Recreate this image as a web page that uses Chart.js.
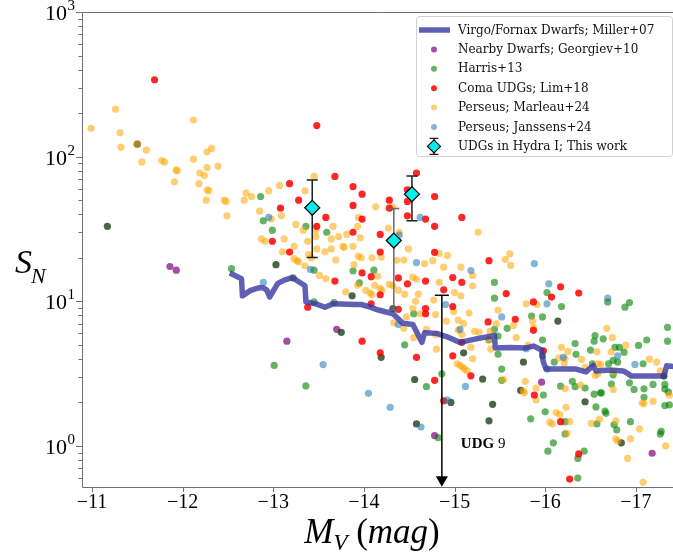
<!DOCTYPE html>
<html>
<head>
<meta charset="utf-8">
<script src="https://cdn.jsdelivr.net/npm/chart.js@4.4.1/dist/chart.umd.min.js"></script>
<style>
  html, body { margin: 0; padding: 0; background: #fff; }
</style>
</head>
<body>
<canvas id="myChart" width="673" height="554"></canvas>
<script>
// tick labels
const xTicks = [-11, -12, -13, -14, -15, -16, -17];
const yDecades = [0, 1, 2, 3];

// Virgo/Fornax dwarfs, Miller+07 (running curve)
const millerMV = [-12.52, -12.65, -12.66, -12.75, -12.84, -12.89, -12.93, -12.96, -13.05, -13.12,
  -13.21, -13.35, -13.36, -13.47, -13.57, -13.66, -13.90, -13.97, -14.07, -14.16,
  -14.32, -14.43, -14.54, -14.64, -14.67, -14.80, -14.91, -15.06, -15.24, -15.44,
  -15.45, -15.61, -15.79, -15.87, -15.96, -15.98, -16.01, -16.16, -16.34, -16.45,
  -16.53, -16.56, -16.71, -16.86, -16.91, -16.95, -17.31, -17.34, -17.48];
const millerSN = [15.7, 14.3, 10.9, 11.9, 12.4, 12.4, 11.9, 10.7, 13.3, 14.0,
  14.6, 12.8, 9.9, 9.6, 9.1, 9.6, 9.5, 9.5, 9.1, 8.7,
  8.2, 7.05, 6.9, 5.2, 6.07, 6.0, 5.7, 5.2, 5.5, 5.8,
  4.76, 4.8, 4.76, 4.9, 4.6, 3.8, 3.4, 3.4, 3.4, 3.25,
  3.6, 3.3, 3.35, 3.3, 3.17, 3.04, 3.04, 3.58, 3.5];

// [M_V, S_N]
const georgiev = [[-11.86, 17.4], [-11.93, 16.4], [-13.70, 6.4], [-13.15, 5.3], [-14.78, 1.18],
  [-15.96, 2.76], [-17.18, 0.89]];

const harris = [[-12.86, 53], [-12.89, 36], [-12.99, 31], [-13.36, 33], [-13.59, 30], [-13.45, 16.4],
  [-13.88, 16.2], [-12.54, 16.8], [-13.22, 14.5], [-13.01, 3.6], [-13.36, 2.6], [-14.11, 16.4],
  [-13.95, 13.4], [-15.44, 13.5], [-15.44, 10.5], [-14.45, 5.0], [-14.55, 8.2], [-15.85, 7.9],
  [-15.97, 7.8], [-15.58, 6.5], [-15.44, 6.4], [-15.38, 5.4], [-15.97, 5.4], [-16.02, 11.5],
  [-16.18, 9.2], [-16.69, 9.9], [-16.88, 9.1], [-16.93, 9.8], [-16.55, 5.8], [-16.54, 5.3],
  [-16.64, 5.5], [-16.33, 5.1], [-17.35, 6.6], [-17.35, 5.3], [-17.12, 5.4], [-16.77, 4.8],
  [-16.82, 4.8], [-16.87, 4.45], [-17.03, 4.95], [-16.34, 4.3], [-16.50, 4.6], [-15.97, 4.2],
  [-16.10, 3.8], [-16.52, 3.7], [-16.70, 3.7], [-16.75, 3.9], [-16.80, 3.8], [-16.75, 3.1],
  [-17.08, 3.7], [-16.93, 2.73], [-16.98, 2.46], [-17.09, 2.48], [-17.19, 2.66], [-17.32, 2.66],
  [-17.32, 2.47], [-17.36, 2.36], [-17.09, 2.17], [-17.32, 1.9], [-17.37, 1.92], [-16.73, 2.68],
  [-16.61, 2.33], [-16.62, 2.33], [-16.54, 2.28], [-16.44, 2.51], [-16.33, 2.57], [-16.17, 2.59],
  [-16.30, 2.8], [-15.98, 2.25], [-16.56, 1.86], [-16.66, 1.74], [-16.67, 1.68], [-16.57, 1.42],
  [-16.76, 1.40], [-16.79, 1.29], [-16.94, 1.47], [-17.28, 1.26], [-17.27, 1.21], [-16.22, 1.47],
  [-15.84, 1.54], [-16.00, 1.72], [-16.22, 1.21], [-16.09, 1.05], [-16.03, 0.92], [-16.43, 0.92],
  [-16.36, 0.82], [-16.36, 0.60], [-14.69, 2.57], [-14.86, 3.15], [-14.82, 1.14], [-15.52, 3.4],
  [-15.52, 2.84], [-15.48, 4.3], [-13.45, 9.9], [-13.67, 9.8], [-15.48, 5.75]];

// darker Harris points
const harrisDark = [[-11.17, 33], [-11.50, 122], [-13.03, 17.9], [-13.75, 6.1], [-13.87, 10.9],
  [-14.32, 8.9], [-14.19, 4.1], [-14.56, 2.88], [-14.58, 1.42], [-14.96, 2.0], [-15.10, 4.4],
  [-15.31, 2.9], [-15.42, 1.94], [-15.38, 1.49], [-16.14, 7.3], [-15.76, 3.8], [-15.73, 2.42],
  [-16.44, 2.02], [-16.84, 1.05], [-17.31, 3.04]];

const lim = [[-11.69, 340], [-13.48, 164], [-13.68, 73], [-13.88, 62], [-13.18, 65], [-13.28, 50],
  [-13.88, 46], [-13.08, 44], [-13.58, 38], [-13.48, 33], [-13.88, 30], [-12.99, 26], [-13.18, 21.9],
  [-13.68, 13.8], [-13.38, 9.1], [-13.98, 5.3], [-14.18, 4.4], [-14.58, 77], [-13.98, 55],
  [-14.28, 50], [-14.28, 44], [-14.48, 59], [-14.48, 49], [-14.78, 53], [-14.48, 39], [-14.68, 37],
  [-14.78, 33], [-15.08, 38], [-13.98, 37], [-14.18, 29], [-14.18, 21.9], [-14.78, 21.8],
  [-15.38, 19.1], [-13.98, 15.7], [-14.08, 14.8], [-14.38, 14.5], [-14.68, 13.8], [-14.98, 14.6],
  [-15.08, 13.5], [-14.48, 13.2], [-14.18, 11.1], [-14.88, 12.0], [-15.57, 11.3], [-14.98, 9.2],
  [-14.68, 8.9], [-14.68, 8.2], [-14.08, 9.6], [-14.38, 8.8], [-15.37, 7.2], [-15.67, 7.5],
  [-15.87, 9.9], [-15.87, 6.3], [-16.17, 12.6], [-16.07, 10.7], [-16.37, 11.4], [-14.58, 4.1],
  [-14.78, 2.84], [-14.88, 2.05], [-14.98, 4.2], [-15.18, 3.05], [-15.88, 2.25], [-16.17, 1.47],
  [-16.37, 0.88], [-16.27, 0.59], [-15.08, 5.2], [-15.98, 4.55]];

const marleau = [[-10.99, 157], [-11.26, 213], [-11.31, 146], [-11.32, 116], [-11.50, 122],
  [-11.60, 111], [-11.55, 92], [-12.12, 179], [-12.12, 96], [-12.27, 108], [-12.32, 114],
  [-11.77, 94], [-11.80, 92], [-11.93, 81], [-11.94, 80], [-12.27, 84], [-12.39, 86], [-12.19, 77],
  [-12.24, 74], [-11.91, 67], [-12.18, 65], [-12.27, 59], [-12.29, 58],
  [-13.45, 73], [-13.35, 58], [-13.07, 63], [-12.95, 58], [-12.70, 56], [-12.76, 53], [-12.46, 50],
  [-12.48, 49], [-12.26, 50], [-12.68, 50], [-12.49, 39], [-12.85, 42], [-13.09, 39], [-12.98, 37],
  [-13.25, 34], [-13.33, 31], [-13.47, 31], [-13.66, 33], [-13.72, 28], [-13.81, 29], [-13.64, 27],
  [-13.47, 28], [-13.38, 26], [-13.12, 27], [-12.87, 27], [-12.91, 26], [-13.23, 24], [-13.77, 24],
  [-13.78, 23.6], [-13.88, 24], [-13.64, 23], [-13.48, 23], [-13.57, 22], [-13.10, 22], [-13.39, 21],
  [-13.42, 20], [-13.23, 19.7], [-13.26, 19.1], [-13.28, 18.8], [-13.69, 19.3], [-13.35, 17.6],
  [-13.51, 15.1], [-13.58, 14.3], [-13.80, 11.6],
  [-14.13, 45], [-14.32, 45], [-13.94, 38], [-13.93, 33], [-13.96, 27.5], [-14.27, 32], [-14.39, 30],
  [-15.26, 30], [-14.49, 23], [-14.83, 21.4], [-14.92, 20.7], [-13.94, 20.5], [-13.97, 20],
  [-14.09, 20], [-14.19, 20.2], [-14.36, 19.2], [-14.44, 19.3], [-14.67, 18.2], [-14.76, 19.1],
  [-15.56, 19.5], [-15.62, 17.7], [-13.89, 17.9], [-14.88, 17.2], [-15.07, 17.2], [-15.20, 15.1],
  [-14.15, 14.9], [-14.54, 14.7], [-14.58, 14.2], [-14.83, 13.5], [-15.20, 12.8], [-13.93, 12.9],
  [-14.12, 12.9], [-14.28, 13.1], [-14.32, 12.8], [-14.02, 11.9], [-14.07, 11.4], [-14.09, 11.1],
  [-14.18, 12.3], [-14.20, 11.9], [-14.38, 11.9], [-14.45, 11.2], [-14.60, 11.2], [-15.00, 11.5],
  [-15.07, 10.9], [-14.57, 10.0], [-14.77, 10.2], [-14.54, 8.9], [-15.61, 21.3],
  [-14.33, 7.1], [-14.44, 6.5], [-14.62, 8.2], [-14.79, 8.1], [-14.91, 7.3], [-15.04, 7.4],
  [-15.10, 7.0], [-15.16, 8.3], [-15.48, 8.7], [-15.46, 7.0], [-15.65, 6.8], [-15.39, 6.2],
  [-15.68, 5.6], [-15.22, 6.2], [-15.27, 6.1], [-15.38, 5.4], [-15.04, 6.3], [-15.08, 5.9],
  [-15.79, 9.6], [-15.91, 9.5], [-15.86, 7.3], [-15.87, 6.6], [-16.68, 6.5], [-16.74, 5.6],
  [-16.18, 4.8],
  [-15.54, 2.87], [-15.40, 4.67], [-14.80, 4.67], [-14.79, 5.9], [-14.55, 5.6], [-14.69, 6.4],
  [-14.47, 7.8], [-14.99, 8.5], [-15.20, 4.0], [-15.03, 3.7], [-15.06, 3.6], [-15.09, 3.5],
  [-15.11, 3.4], [-15.14, 3.3], [-15.18, 4.8], [-15.78, 2.8], [-15.76, 2.4], [-15.90, 2.08],
  [-15.81, 4.97], [-16.15, 4.06], [-16.22, 4.0], [-16.21, 3.7], [-16.25, 4.5], [-16.40, 3.96],
  [-16.44, 3.5], [-16.57, 4.47], [-16.58, 3.7], [-16.61, 3.66], [-16.55, 3.07], [-16.58, 3.15],
  [-16.73, 4.47], [-16.89, 4.97], [-16.75, 3.27], [-17.15, 3.98], [-17.23, 3.8], [-17.27, 3.3],
  [-17.37, 2.24], [-17.07, 1.98], [-17.09, 1.96], [-17.19, 2.03], [-16.75, 2.46], [-16.39, 2.63],
  [-16.22, 2.49], [-16.60, 1.53], [-16.51, 1.43], [-16.78, 1.49], [-16.78, 1.12], [-16.80, 1.08],
  [-16.94, 1.12], [-17.04, 1.31], [-17.33, 1.0], [-16.91, 0.82], [-17.08, 0.56], [-16.23, 1.85],
  [-16.12, 1.70], [-16.16, 1.65], [-16.05, 1.46], [-16.08, 1.42], [-16.27, 1.47], [-16.24, 1.22],
  [-15.77, 2.33], [-15.90, 2.51]];

const janssens = [[-12.89, 13.5], [-12.95, 38], [-13.55, 3.65], [-14.05, 2.31], [-13.41, 16.6],
  [-14.62, 38], [-14.39, 28.7], [-14.58, 18.5], [-15.18, 16.3], [-14.90, 9.5], [-14.38, 6.9],
  [-15.52, 7.8], [-15.88, 18.2], [-16.04, 13.2], [-16.69, 10.5], [-14.29, 1.85], [-14.63, 1.35],
  [-14.92, 2.08], [-15.12, 2.58], [-15.06, 6.4], [-16.20, 4.1], [-16.80, 4.2], [-16.99, 3.66],
  [-16.02, 3.4], [-15.79, 4.7], [-16.02, 9.6]];

// UDGs in Hydra I (this work)
const hydraMV = [-13.43, -14.33, -14.53];
const hydraSN = [44.3, 26.3, 55.0];
const hydraLo = [20.1, 8.67, 36.0];
const hydraHi = [69, 43.8, 73.6];

// UDG 9 upper limit
const udg9MV = -14.86;
const udg9Lim = 11.0;
const udg9Tip = 0.583;

const col = {
  miller: 'rgba(55,55,161,0.8)',
  purple: 'rgba(128,0,128,0.7)',
  green: 'rgba(0,128,0,0.6)',
  dark: 'rgba(25,65,25,0.8)',
  red: 'rgba(255,0,0,0.85)',
  orange: 'rgba(255,165,0,0.55)',
  blue: 'rgba(31,119,180,0.55)'
};

const toXY = pts => pts.map(p => ({ x: p[0], y: p[1] }));
const dots = (label, pts, color) => ({
  label: label,
  data: toXY(pts),
  backgroundColor: color,
  borderWidth: 0,
  pointRadius: 3.6,
  pointHoverRadius: 3.6
});

const datasets = [
  {
    label: 'UDGs in Hydra I; This work',
    data: hydraMV.map((v, i) => ({ x: v, y: hydraSN[i] })),
    pointStyle: 'rectRot',
    pointRadius: 7.5,
    backgroundColor: '#00f0f0',
    borderColor: '#000',
    borderWidth: 1.2
  },
  {
    label: 'UDG 9',
    data: [{ x: udg9MV, y: udg9Lim }, { x: udg9MV, y: udg9Tip }],
    showLine: true,
    borderColor: '#000',
    borderWidth: 1.5,
    backgroundColor: '#000',
    pointStyle: ['line', 'triangle'],
    pointRotation: [0, 180],
    pointRadius: [7, 7],
    pointBorderWidth: [1.5, 0],
    clip: false
  },
  {
    label: 'Virgo/Fornax Dwarfs; Miller+07',
    data: millerMV.map((v, i) => ({ x: v, y: millerSN[i] })),
    showLine: true,
    borderColor: col.miller,
    borderWidth: 5.5,
    borderJoinStyle: 'round',
    pointRadius: 0
  },
  dots('Perseus; Janssens+24', janssens, col.blue),
  dots('Coma UDGs; Lim+18', lim, col.red),
  dots('Perseus; Marleau+24', marleau, col.orange),
  dots('Harris+13', harris, col.green),
  dots('', harrisDark, col.dark),
  dots('Nearby Dwarfs; Georgiev+10', georgiev, col.purple)
];

const legendRows = [
  ['Virgo/Fornax Dwarfs; Miller+07', 'line', col.miller],
  ['Nearby Dwarfs; Georgiev+10', 'dot', col.purple],
  ['Harris+13', 'dot', col.green],
  ['Coma UDGs; Lim+18', 'dot', col.red],
  ['Perseus; Marleau+24', 'dot', col.orange],
  ['Perseus; Janssens+24', 'dot', col.blue],
  ['UDGs in Hydra I; This work', 'hydra', '#00f0f0']
];

const serif = 'Liberation Serif';

const decor = {
  id: 'decor',
  beforeDatasetDraw(chart, args) {
    if (args.index !== 0) return;
    const ctx = chart.ctx, xs = chart.scales.x, ys = chart.scales.y;
    ctx.save();
    ctx.lineWidth = 1.5;
    hydraMV.forEach((mv, i) => {
      const x = xs.getPixelForValue(mv);
      const y1 = ys.getPixelForValue(hydraHi[i]);
      const y2 = ys.getPixelForValue(hydraLo[i]);
      ctx.strokeStyle = i === 1 ? '#6a6a6a' : '#222';
      ctx.beginPath();
      ctx.moveTo(x, y1); ctx.lineTo(x, y2);
      ctx.moveTo(x - 5.5, y1); ctx.lineTo(x + 5.5, y1);
      ctx.moveTo(x - 5.5, y2); ctx.lineTo(x + 5.5, y2);
      ctx.stroke();
    });
    ctx.restore();
  },
  afterDraw(chart) {
    const ctx = chart.ctx, a = chart.chartArea;
    const xs = chart.scales.x, ys = chart.scales.y;
    ctx.save();

    // frame
    ctx.strokeStyle = '#707070';
    ctx.lineWidth = 1;
    ctx.beginPath();
    ctx.moveTo(a.right + 1, a.top + 0.5); ctx.lineTo(a.left + 0.5, a.top + 0.5);
    ctx.lineTo(a.left + 0.5, a.bottom + 0.5); ctx.lineTo(a.right + 1, a.bottom + 0.5);
    ctx.stroke();

    // x ticks
    ctx.beginPath();
    xTicks.forEach(v => {
      const x = Math.round(xs.getPixelForValue(v)) + 0.5;
      ctx.moveTo(x, a.bottom); ctx.lineTo(x, a.bottom + 5);
    });
    // y ticks, major and minor
    for (let d = -1; d <= 3; d++) {
      for (let k = 1; k <= 9; k++) {
        const v = k * Math.pow(10, d);
        if (v < ys.min || v > ys.max) continue;
        const y = Math.round(ys.getPixelForValue(v)) + 0.5;
        ctx.moveTo(a.left, y); ctx.lineTo(a.left - (k === 1 ? 6 : 3.5), y);
      }
    }
    ctx.stroke();

    // y tick labels 10^n
    ctx.fillStyle = '#000';
    ctx.textBaseline = 'alphabetic';
    yDecades.forEach(p => {
      const y = ys.getPixelForValue(Math.pow(10, p));
      ctx.font = '15px ' + serif;
      const ew = ctx.measureText(String(p)).width;
      const xe = a.left - 7;
      ctx.textAlign = 'left';
      ctx.fillText(String(p), xe - ew, y - 2);
      ctx.font = '22px ' + serif;
      ctx.textAlign = 'right';
      ctx.fillText('10', xe - ew - 0.5, y + 8);
    });

    // y title S_N
    ctx.textAlign = 'left';
    ctx.font = 'italic 34px ' + serif;
    ctx.fillText('S', 15, 273);
    const sw = ctx.measureText('S').width;
    ctx.font = 'italic 22px ' + serif;
    ctx.fillText('N', 14 + sw, 283);

    // x title M_V (mag)
    const parts = [
      ['M', 'italic 35px ' + serif, 0],
      ['V', 'italic 23px ' + serif, 7],
      [' (', '35px ' + serif, 0],
      ['mag', 'italic 35px ' + serif, 0],
      [')', '35px ' + serif, 0]
    ];
    let tw = 0;
    parts.forEach(p => { ctx.font = p[1]; tw += ctx.measureText(p[0]).width; });
    let tx = 372 - tw / 2;
    parts.forEach(p => {
      ctx.font = p[1];
      ctx.fillText(p[0], tx, 543 + p[2]);
      tx += ctx.measureText(p[0]).width;
    });

    // UDG 9 label
    const ux = xs.getPixelForValue(udg9MV) + 19;
    const uy = ys.getPixelForValue(0.97);
    ctx.font = 'bold 15px ' + serif;
    ctx.fillText('UDG', ux, uy);
    const uw = ctx.measureText('UDG ').width;
    ctx.font = '15px ' + serif;
    ctx.fillText('9', ux + uw, uy);

    // legend
    const lx = 416.5, ly = 16.5, lw = 256, lh = 140;
    ctx.beginPath();
    ctx.roundRect(lx, ly, lw, lh, 3);
    ctx.fillStyle = 'rgba(255,255,255,0.8)';
    ctx.fill();
    ctx.strokeStyle = '#d0d0d0';
    ctx.lineWidth = 1;
    ctx.stroke();
    ctx.font = '12px DejaVu Serif';
    ctx.textBaseline = 'middle';
    legendRows.forEach((r, i) => {
      const y = ly + 13.5 + i * 19.4;
      const mx = 434;
      if (r[1] === 'line') {
        ctx.strokeStyle = r[2];
        ctx.lineWidth = 5.5;
        ctx.beginPath(); ctx.moveTo(419, y); ctx.lineTo(450, y); ctx.stroke();
      } else if (r[1] === 'dot') {
        ctx.fillStyle = r[2];
        ctx.beginPath(); ctx.arc(mx, y, 3, 0, Math.PI * 2); ctx.fill();
      } else {
        ctx.strokeStyle = '#222';
        ctx.lineWidth = 1.3;
        ctx.beginPath();
        ctx.moveTo(mx, y - 8); ctx.lineTo(mx, y + 8);
        ctx.moveTo(mx - 4.5, y - 8); ctx.lineTo(mx + 4.5, y - 8);
        ctx.moveTo(mx - 4.5, y + 8); ctx.lineTo(mx + 4.5, y + 8);
        ctx.stroke();
        ctx.beginPath();
        ctx.moveTo(mx, y - 6.5); ctx.lineTo(mx + 6.5, y); ctx.lineTo(mx, y + 6.5); ctx.lineTo(mx - 6.5, y);
        ctx.closePath();
        ctx.fillStyle = r[2];
        ctx.fill();
        ctx.strokeStyle = '#000';
        ctx.lineWidth = 1.1;
        ctx.stroke();
      }
      ctx.fillStyle = '#111';
      ctx.textAlign = 'left';
      ctx.fillText(r[0], 458, y + 0.5);
    });
    ctx.restore();
  }
};

const config = {
  type: 'scatter',
  data: { datasets: datasets },
  options: {
    responsive: false,
    animation: false,
    devicePixelRatio: 1,
    events: [],
    layout: { autoPadding: false, padding: { top: 12, left: 0, right: 0, bottom: 0 } },
    plugins: { legend: { display: false }, tooltip: { enabled: false } },
    scales: {
      x: {
        type: 'linear',
        reverse: true,
        min: -17.41,
        max: -10.89,
        grid: { display: false, drawTicks: false, tickLength: 0 },
        border: { display: false },
        ticks: {
          color: '#000',
          padding: 4,
          font: { family: serif, size: 20 },
          callback: v => '\u2212' + Math.abs(v)
        },
        afterBuildTicks: s => { s.ticks = xTicks.map(v => ({ value: v })); },
        afterFit: s => { s.height = 67; s.paddingLeft = 0; s.paddingRight = 0; }
      },
      y: {
        type: 'logarithmic',
        min: 0.52,
        max: 1000,
        grid: { display: false },
        border: { display: false },
        ticks: { display: false },
        afterFit: s => { s.width = 82; s.paddingTop = 0; s.paddingBottom = 0; }
      }
    }
  },
  plugins: [decor]
};

const myChart = new Chart(document.getElementById('myChart'), config);
</script>
</body>
</html>
